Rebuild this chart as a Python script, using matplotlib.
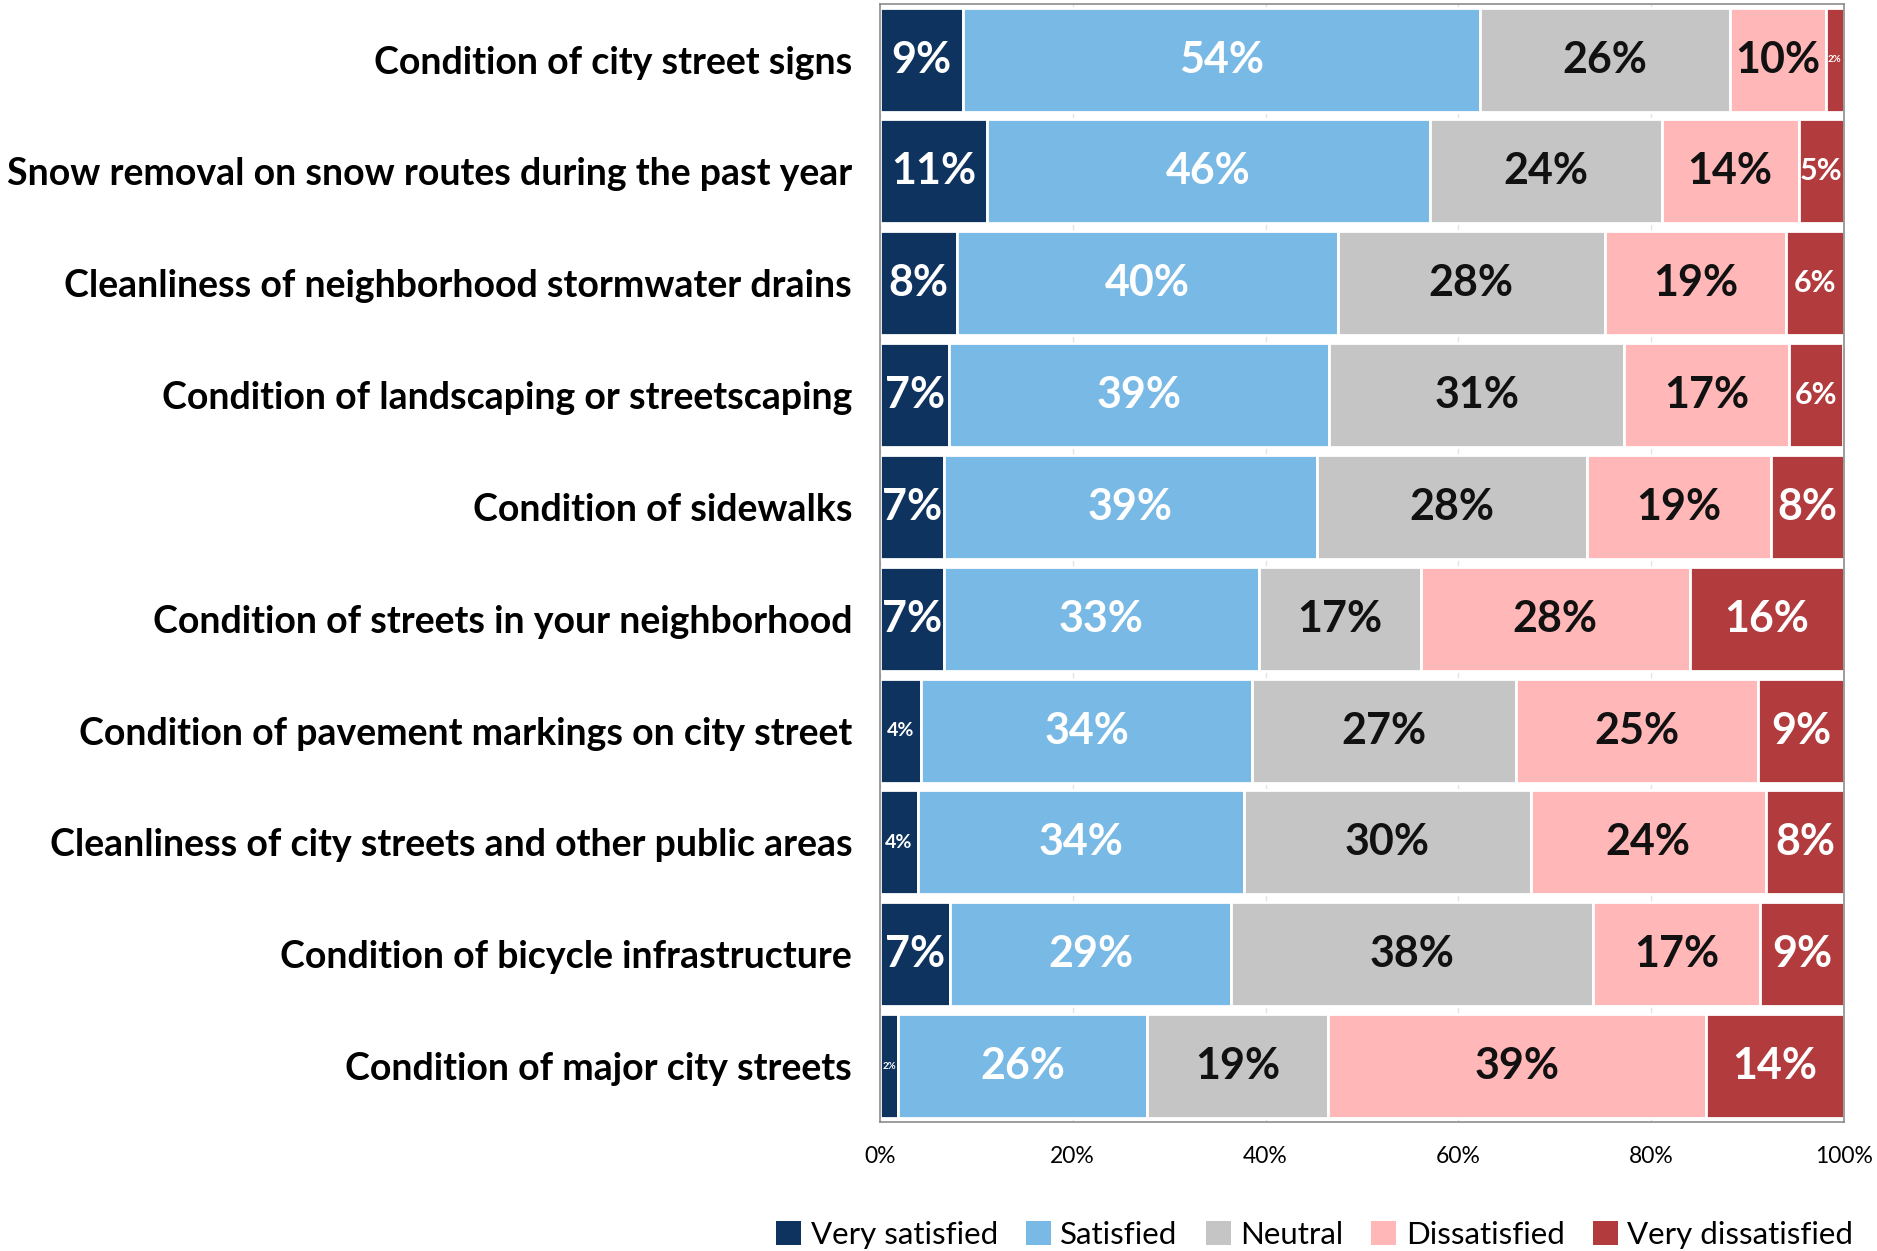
import numpy as np
import matplotlib
matplotlib.use("Agg")
import matplotlib.pyplot as plt
from matplotlib.patches import Patch

plt.rcParams['font.family'] = ['Lato', 'DejaVu Sans']

categories = [
    "Condition of city street signs",
    "Snow removal on snow routes during the past year",
    "Cleanliness of neighborhood stormwater drains",
    "Condition of landscaping or streetscaping",
    "Condition of sidewalks",
    "Condition of streets in your neighborhood",
    "Condition of pavement markings on city street",
    "Cleanliness of city streets and other public areas",
    "Condition of bicycle infrastructure",
    "Condition of major city streets",
]
very_satisfied = [8.6, 11.1, 8.0, 7.2, 6.6, 6.6, 4.3, 3.9, 7.3, 1.9]
satisfied = [53.6, 46.0, 39.5, 39.4, 38.7, 32.7, 34.3, 33.9, 29.1, 25.8]
neutral = [26.0, 24.0, 27.7, 30.6, 28.0, 16.8, 27.4, 29.7, 37.6, 18.8]
dissatisfied = [9.9, 14.2, 18.8, 17.1, 19.1, 27.9, 25.1, 24.4, 17.3, 39.2]
very_dissatisfied = [1.9, 4.7, 6.0, 5.6, 7.6, 16.0, 8.9, 8.1, 8.7, 14.3]

series_names = ["Very satisfied", "Satisfied", "Neutral", "Dissatisfied", "Very dissatisfied"]
series = [very_satisfied, satisfied, neutral, dissatisfied, very_dissatisfied]
colors = ["#0f335f", "#78b9e5", "#c5c5c5", "#ffb7b8", "#b23b3e"]
text_colors = ["white", "white", "#111111", "#111111", "white"]

fig = plt.figure(figsize=(18.77, 12.51), dpi=100)
ax = fig.add_axes([0.4688, 0.1031, 0.5136, 0.8939])

y = np.arange(len(categories))
left = np.zeros(len(categories))
for vals, name, col, tcol in zip(series, series_names, colors, text_colors):
    vals = np.array(vals)
    ax.barh(y, vals, left=left, height=0.93, color=col, edgecolor="white",
            linewidth=2, label=name, zorder=2)
    for yi, (l, v) in enumerate(zip(left, vals)):
        if v < 3:
            fs = 7
        elif v < 4.5:
            fs = 14
        elif v < 6.3:
            fs = 22
        else:
            fs = 31
        ax.text(l + v / 2, yi, f"{round(v)}%", ha="center", va="center",
                color=tcol, fontsize=fs, fontweight="bold", zorder=3)
    left += vals

ax.set_xlim(0, 100)
ax.set_ylim(len(categories) - 0.5, -0.5)
ax.set_yticks(y)
ax.set_yticklabels(categories, fontsize=27, fontweight="bold")
ax.set_xticks(np.arange(0, 101, 20))
ax.set_xticklabels([f"{t}%" for t in range(0, 101, 20)], fontsize=16.5)
ax.tick_params(axis="y", length=0, pad=20)
ax.tick_params(axis="x", length=0, pad=17)
ax.xaxis.grid(True, color="#e3e3e3", linewidth=1, zorder=0)
ax.set_axisbelow(True)
for s in ax.spines.values():
    s.set_color("#8c8c8c")
    s.set_linewidth(1.2)

handles = [Patch(facecolor=c, edgecolor="none") for c in colors]
fig.legend(handles, series_names, loc="lower right", bbox_to_anchor=(0.994, -0.008),
           ncol=5, frameon=False, fontsize=22.5, handlelength=0.8, handleheight=0.8,
           handletextpad=0.3, columnspacing=0.9, borderaxespad=0)

fig.savefig("out.png", dpi=100)
